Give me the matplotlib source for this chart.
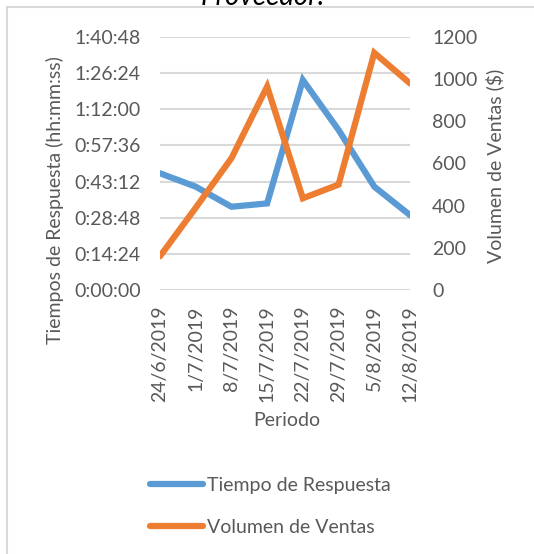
import matplotlib
matplotlib.use("Agg")
import matplotlib.pyplot as plt
from matplotlib.ticker import FuncFormatter, MultipleLocator
from matplotlib.patches import Rectangle

# data
periodos = ["24/6/2019", "1/7/2019", "8/7/2019", "15/7/2019",
            "22/7/2019", "29/7/2019", "5/8/2019", "12/8/2019"]
tiempo_respuesta = ["0:46:30", "0:41:10", "0:33:10", "0:34:30",
                    "1:23:40", "1:03:45", "0:41:10", "0:29:50"]
volumen_ventas = [160, 390, 625, 965, 435, 500, 1125, 980]

BLUE = "#5B9BD5"
ORANGE = "#ED7D31"
GRAY = "#595959"
GRID = "#D9D9D9"
FONT = "Lato"
FS = 14


def to_seconds(s):
    h, m, sec = [int(p) for p in s.split(":")]
    return h * 3600 + m * 60 + sec


def fmt_time(x, pos):
    x = int(round(x))
    return f"{x // 3600}:{(x % 3600) // 60:02d}:{x % 60:02d}"


plt.rcParams["font.family"] = [FONT, "DejaVu Sans"]

W, H = 534, 554
fig = plt.figure(figsize=(W / 100, H / 100), dpi=100)

# chart frame (Excel style border)
fig.patches.append(Rectangle((7 / W, -0.1), 1.2, 1 - 7 / H + 0.1,
                             transform=fig.transFigure, fill=False,
                             edgecolor=GRID, linewidth=1.5))

ax = fig.add_axes([160 / W, 1 - 290 / H, 250 / W, 253 / H])
x = list(range(len(periodos)))
secs = [to_seconds(t) for t in tiempo_respuesta]
l1, = ax.plot(x, secs, color=BLUE, lw=4.5, solid_capstyle="round",
              solid_joinstyle="miter", label="Tiempo de Respuesta")

ax.set_ylim(0, 6048)
ax.yaxis.set_major_locator(MultipleLocator(864))
ax.yaxis.set_major_formatter(FuncFormatter(fmt_time))
ax.set_xlim(0, len(periodos) - 1)
ax.set_xticks(x)
ax.set_xticklabels(periodos, rotation=90, fontsize=FS, color=GRAY)
ax.grid(axis="y", color=GRID, lw=1.5)
ax.set_axisbelow(True)
for sp in ax.spines.values():
    sp.set_visible(False)
ax.tick_params(axis="both", length=0, labelsize=FS, labelcolor=GRAY)
ax.tick_params(axis="x", pad=11)
ax.tick_params(axis="y", pad=14)

ax2 = ax.twinx()
l2, = ax2.plot(x, volumen_ventas, color=ORANGE, lw=4.5, solid_capstyle="round",
               solid_joinstyle="miter", label="Volumen de Ventas")
ax2.set_ylim(0, 1200)
ax2.yaxis.set_major_locator(MultipleLocator(200))
for sp in ax2.spines.values():
    sp.set_visible(False)
ax2.tick_params(axis="y", length=0, labelsize=FS, labelcolor=GRAY, pad=16)

# titles (the chart title is cut off at the top, as in the source)
fig.text(263 / W, 1 - 5 / H, "Proveedor.", ha="center", va="baseline",
         fontsize=20, style="italic", color="black")
fig.text(55 / W, 1 - 200 / H, "Tiempos de Respuesta (hh:mm:ss)", rotation=90,
         ha="center", va="center", fontsize=FS, color=GRAY)
fig.text(495 / W, 1 - 166 / H, "Volumen de Ventas ($)", rotation=90,
         ha="center", va="center", fontsize=FS, color=GRAY)
fig.text(287 / W, 1 - 420 / H, "Periodo", ha="center", va="center",
         fontsize=FS, color=GRAY)

fig.legend(handles=[l1, l2], loc="upper left",
           bbox_to_anchor=(150 / W, 1 - 477 / H), frameon=False,
           fontsize=FS, labelcolor=GRAY, handlelength=2.7,
           handletextpad=0.25, labelspacing=1.3, borderpad=0,
           borderaxespad=0)

fig.savefig("out.png", dpi=100)
